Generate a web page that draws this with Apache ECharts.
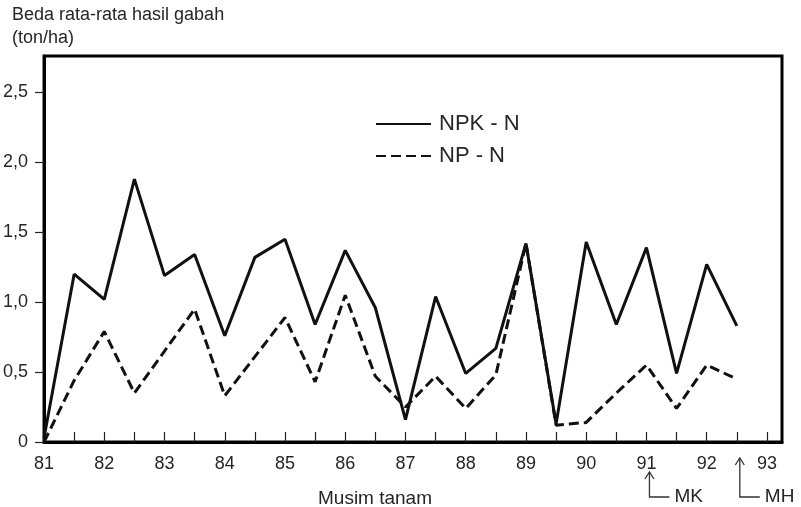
<!DOCTYPE html>
<html><head><meta charset="utf-8">
<script src="https://cdn.jsdelivr.net/npm/echarts@6/dist/echarts.min.js"></script>
<style>html,body{margin:0;padding:0;background:#fff}#c{width:801px;height:507px}</style>
</head><body><div id="c"></div>
<script>
const seasons = [81,81.5,82,82.5,83,83.5,84,84.5,85,85.5,86,86.5,87,87.5,88,88.5,89,89.5,90,90.5,91,91.5,92,92.5];
const npkMinusN = [0.03,1.2,1.02,1.88,1.19,1.34,0.76,1.32,1.45,0.84,1.37,0.96,0.16,1.04,0.49,0.67,1.42,0.13,1.43,0.84,1.39,0.49,1.27,0.83];
const npMinusN = [0,0.44,0.79,0.35,0.65,0.95,0.33,0.61,0.89,0.43,1.05,0.47,0.25,0.47,0.24,0.48,1.42,0.12,0.14,0.35,0.55,0.24,0.55,0.45];
const xTickValues = [81,81.5,82,82.5,83,83.5,84,84.5,85,85.5,86,86.5,87,87.5,88,88.5,89,89.5,90,90.5,91,91.5,92,92.5,93];
const xLabelValues = [81,82,83,84,85,86,87,88,89,90,91,92,93];
const yTickValues = [0,0.5,1,1.5,2,2.5];
const seriesNames = ['NPK - N', 'NP - N'];
const yTitle = 'Beda rata-rata hasil gabah\n(ton/ha)';
const xTitle = 'Musim tanam';
const mkLabel = 'MK', mhLabel = 'MH';
const mkSeason = 91, mhSeason = 92.5;

const FONT = '"Liberation Sans", Arial, sans-serif';
const TXT = '#262626';
const chart = echarts.init(document.getElementById('c'), null, {renderer: 'canvas'});
const pair = arr => seasons.map((s, i) => [s, arr[i]]);

chart.setOption({
  animation: false,
  backgroundColor: '#fff',
  textStyle: {fontFamily: FONT},
  title: [
    {text: yTitle, left: 7, top: -1, textStyle: {fontFamily: FONT, fontSize: 18, fontWeight: 'normal', color: TXT, lineHeight: 23}},
    {text: xTitle, left: 370, top: 484, textAlign: 'center', textStyle: {fontFamily: FONT, fontSize: 19, fontWeight: 'normal', color: TXT}}
  ],
  legend: {
    data: seriesNames, orient: 'vertical', left: 370, top: 108,
    itemWidth: 55, itemHeight: 14, itemGap: 10,
    itemStyle: {opacity: 0},
    textStyle: {fontFamily: FONT, fontSize: 22, color: TXT, padding: [0,0,0,3]}
  },
  grid: {left: 43, right: 19, top: 56, bottom: 65, show: true, borderColor: '#000', borderWidth: 3, backgroundColor: 'transparent'},
  xAxis: {
    type: 'value', min: 81, max: 93.25, interval: 0.5,
    axisLine: {show: true, lineStyle: {color: '#000', width: 3}},
    axisTick: {show: true, inside: true, length: 10, lineStyle: {color: '#222', width: 1.2}, customValues: xTickValues},
    axisLabel: {fontFamily: FONT, fontSize: 18, color: TXT, margin: 13, customValues: xLabelValues, formatter: v => String(Math.round(v))},
    splitLine: {show: false}
  },
  yAxis: {
    type: 'value', min: 0, max: 2.76, interval: 0.5,
    axisLine: {show: true, lineStyle: {color: '#000', width: 3}},
    axisTick: {show: true, inside: false, length: 9, lineStyle: {color: '#222', width: 1.2}, customValues: yTickValues},
    axisLabel: {fontFamily: FONT, fontSize: 18, color: TXT, margin: 16, customValues: yTickValues,
      formatter: v => v === 0 ? '0' : v.toFixed(1).replace('.', ',')},
    splitLine: {show: false}
  },
  series: [
    {name: seriesNames[0], type: 'line', data: pair(npkMinusN), symbol: 'none', showSymbol: false, z: 3,
      lineStyle: {color: '#111', width: 3, type: 'solid'}, itemStyle: {color: '#111'}},
    {name: seriesNames[1], type: 'line', data: pair(npMinusN), symbol: 'none', showSymbol: false, z: 2,
      lineStyle: {color: '#111', width: 3, type: [10, 5]}, itemStyle: {color: '#111'}}
  ]
});

function annot(season, label, tipY) {
  const x = chart.convertToPixel({xAxisIndex: 0}, season) + 3;
  const baseY = 497;
  return [
    {type: 'polyline', shape: {points: [[x, tipY], [x, baseY], [x + 20, baseY]]}, style: {stroke: '#333', lineWidth: 1.3, fill: null}},
    {type: 'polyline', shape: {points: [[x - 4.5, tipY + 7], [x, tipY], [x + 4.5, tipY + 7]]}, style: {stroke: '#333', lineWidth: 1.3, fill: null}},
    {type: 'text', x: x + 25, y: baseY, style: {text: label, font: '19px ' + FONT, fill: TXT, textVerticalAlign: 'middle', verticalAlign: 'middle'}}
  ];
}
chart.setOption({graphic: [].concat(annot(mkSeason, mkLabel, 472), annot(mhSeason, mhLabel, 458))});
</script>
</body></html>
